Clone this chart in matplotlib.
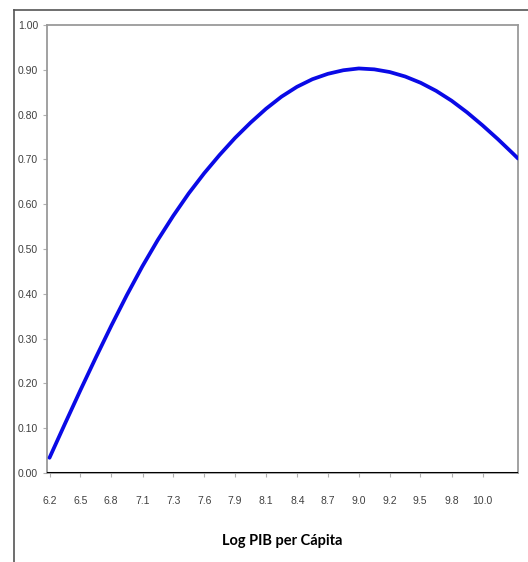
import numpy as np
import matplotlib
matplotlib.use("Agg")
import matplotlib.pyplot as plt
from matplotlib.lines import Line2D

## values (x in log GDP per capita)
log_pib = [6.240, 6.376, 6.512, 6.648, 6.784, 6.920, 7.056, 7.192, 7.328, 7.464,
           7.600, 7.736, 7.872, 8.008, 8.144, 8.280, 8.416, 8.552, 8.688, 8.824,
           8.960, 9.096, 9.232, 9.368, 9.504, 9.640, 9.776, 9.912, 10.048, 10.184,
           10.320, 10.360]
valor = [0.034, 0.110, 0.185, 0.258, 0.329, 0.397, 0.461, 0.520, 0.574, 0.624,
         0.669, 0.710, 0.748, 0.782, 0.813, 0.840, 0.862, 0.879, 0.891, 0.899,
         0.903, 0.901, 0.895, 0.885, 0.871, 0.853, 0.831, 0.805, 0.776, 0.745,
         0.712, 0.702]
x_tick_pos = [6.24, 6.51, 6.78, 7.06, 7.33, 7.60, 7.87, 8.14,
              8.42, 8.69, 8.96, 9.23, 9.50, 9.78, 10.05]
x_labels = ["6.2", "6.5", "6.8", "7.1", "7.3", "7.6", "7.9", "8.1",
            "8.4", "8.7", "9.0", "9.2", "9.5", "9.8", "10.0"]
y_ticks = [0.0, 0.1, 0.2, 0.3, 0.4, 0.5, 0.6, 0.7, 0.8, 0.9, 1.0]

W, H = 528, 562
fig = plt.figure(figsize=(W / 100, H / 100), dpi=100)
fig.patch.set_facecolor("white")

## outer frame (runs off the right and bottom edges)
fig.add_artist(Line2D([14 / W, 1.0], [1 - 10 / H, 1 - 10 / H], color="#555555", lw=1.2))
fig.add_artist(Line2D([14 / W, 14 / W], [0.0, 1 - 10 / H], color="#555555", lw=1.2))

ax = fig.add_axes([47 / W, (H - 473) / H, (518 - 47) / W, (473 - 25) / H])
ax.plot(log_pib, valor, color="#0a0ae6", lw=2.7, solid_capstyle="round",
        solid_joinstyle="round", zorder=3)
ax.axhline(0, color="black", lw=2.2, zorder=4)

ax.set_xlim(6.218, 10.36)
ax.set_ylim(0, 1.0)

for side in ["top", "right", "left", "bottom"]:
    ax.spines[side].set_color("#9a9a9a")
    ax.spines[side].set_linewidth(1.3)

tick_font = ["Liberation Sans Narrow", "Liberation Sans", "DejaVu Sans"]
ax.set_xticks(x_tick_pos)
ax.set_xticklabels(x_labels, family=tick_font, fontsize=7.5, color="#404040")
ax.set_yticks(y_ticks)
ax.set_yticklabels([f"{v:.2f}" for v in y_ticks], family=tick_font, fontsize=7.5, color="#404040")
ax.tick_params(axis="x", length=3, width=0.8, color="#b0b0b0", pad=13.5)
ax.tick_params(axis="y", length=3, width=0.8, color="#b0b0b0", pad=3.5)

ax.set_xlabel("Log PIB per Cápita", family=["Lato", "DejaVu Sans"], fontweight="bold",
              fontsize=10.5, color="black", labelpad=20)

fig.savefig("out.png", dpi=100, facecolor="white")
